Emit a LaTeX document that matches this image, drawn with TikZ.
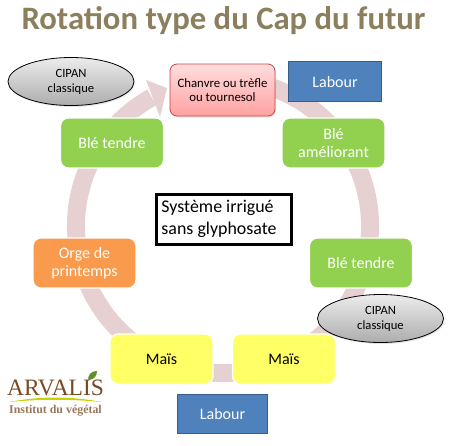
\documentclass[tikz,border=0pt]{standalone}
\usepackage{fontspec}
\setmainfont{Carlito}
\newfontfamily\logofont{Liberation Serif}
\usetikzlibrary{calc,shadows,shapes.geometric}
\definecolor{titlec}{HTML}{8C7F5E}
\definecolor{ringc}{HTML}{E7D0D2}
\definecolor{greenbox}{HTML}{92D050}
\definecolor{orangebox}{HTML}{F99A4C}
\definecolor{yellowbox}{HTML}{FFFF66}
\definecolor{bluebox}{HTML}{4F81BD}
\definecolor{blueline}{HTML}{385D8A}
\definecolor{redline}{HTML}{BE4B48}
\definecolor{redtop}{HTML}{FFDDDD}
\definecolor{redbot}{HTML}{FFA1A1}
\definecolor{greytop}{HTML}{ECECEC}
\definecolor{greybot}{HTML}{ADADAD}
\definecolor{logobrown}{HTML}{7A4A22}
\definecolor{logogreen}{HTML}{C8D400}
\definecolor{logoleaf}{HTML}{5E8F2A}
\tikzset{
  cropbox/.style={rounded corners=8pt,draw=white,line width=1.2pt,minimum width=103pt,minimum height=50pt,align=center,inner sep=0pt,font=\fontsize{16}{18}\selectfont},
  tillbox/.style={fill=bluebox,draw=blueline,line width=1.5pt,text=white,inner sep=0pt,font=\fontsize{16}{18}\selectfont},
  covercrop/.style={ellipse,draw=black,line width=.8pt,top color=greytop,bottom color=greybot,minimum width=126pt,minimum height=48pt,inner sep=0pt,align=center,font=\fontsize{12.6}{15}\selectfont,drop shadow={shadow xshift=1pt,shadow yshift=-1.5pt,opacity=.2}},
}
\begin{document}
\begin{tikzpicture}[x=1pt,y=-1pt]
  \useasboundingbox (0,0) rectangle (452,445);
  \fill[white] (0,0) rectangle (452,445);
  % ring behind the boxes
  \coordinate (hub) at (223,226);
  \draw[ringc,line width=18pt] ($(hub)+(-70:147)$) arc[start angle=-70,end angle=241,radius=147];
  \fill[ringc] (146,80) -- (167,88) -- (160,117) -- cycle;
  \node[font=\fontsize{32.7}{36}\selectfont\bfseries,text=titlec,inner sep=0pt] (title) at (223.5,21) {Rotation type du Cap du futur};
  \foreach \x/\y/\nm/\col/\txt/\lab in {112/143/bleA/greenbox/white/{Blé tendre},333.5/143/bleB/greenbox/white/{Blé\\améliorant},361/263/bleC/greenbox/white/{Blé tendre},84.5/263/orge/orangebox/white/{Orge de\\printemps},161.5/359/maisA/yellowbox/black/Maïs,284/359/maisB/yellowbox/black/Maïs}
    \node[cropbox,fill=\col,text=\txt] (\nm) at (\x,\y) {\lab};
  \node[rounded corners=7pt,draw=redline,line width=.8pt,top color=redtop,bottom color=redbot,minimum width=105pt,minimum height=52pt,inner sep=0pt,align=center,font=\fontsize{12.8}{14.5}\selectfont,drop shadow={shadow xshift=1pt,shadow yshift=-1.5pt,opacity=.2}] (chanvre) at (222.5,90) {Chanvre ou trèfle\\ou tournesol};
  \node[tillbox,minimum width=93pt,minimum height=40pt] (labourA) at (335,81.5) {Labour};
  \node[tillbox,minimum width=90pt,minimum height=39pt] (labourB) at (222.5,414) {Labour};
  \node[covercrop] (cipanA) at (71,81.5) {CIPAN\\classique};
  \node[covercrop] (cipanB) at (380.5,318.5) {CIPAN\\classique};
  \node[draw=black,line width=3pt,fill=white,minimum width=135pt,minimum height=50pt,inner sep=0pt,font=\fontsize{17.9}{22}\selectfont] (systeme) at (223.5,219) {\hspace{-9pt}\begin{tabular}{@{}l@{}}Système irrigué\\sans glyphosate\end{tabular}};
  % logo
  \node[font=\logofont\fontsize{23.5}{23}\selectfont,text=logobrown,inner sep=0pt] (arvalis) at (55.5,388) {ARVALIS};
  \fill[logogreen] (9,402) .. controls (40,396) and (70,396) .. (102,402) .. controls (70,399) and (40,399) .. (9,402) -- cycle;
  \fill[logoleaf] (88,380) .. controls (88,374) and (92,371) .. (97,371) .. controls (97,376) and (94,380) .. (88,380) -- cycle;
  \node[font=\logofont\bfseries\fontsize{11.9}{12}\selectfont,text=logobrown!75,inner sep=0pt] (institut) at (55.5,411) {Institut du végétal};
\end{tikzpicture}
\end{document}
